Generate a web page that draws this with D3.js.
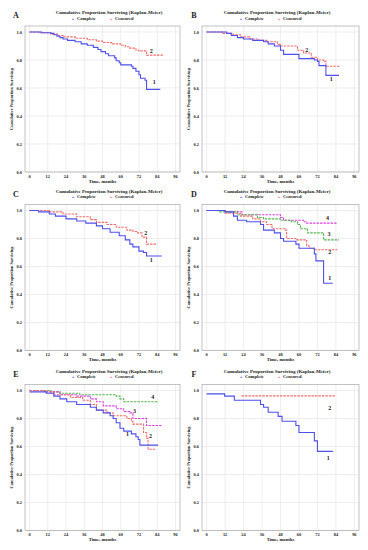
<!DOCTYPE html>
<html>
<head>
<meta charset="utf-8">
<script src="https://cdn.jsdelivr.net/npm/d3@7"></script>
<style>
  body { margin: 0; background: #fff; }
  svg { display: block; }
  text { font-family: "Liberation Serif", "DejaVu Serif", serif; font-weight: bold; fill: #222; }
</style>
</head>
<body>
<svg id="chart" width="368" height="550"></svg>
<script>
// axis ticks
var timeTicks = [0, 12, 24, 36, 48, 60, 72, 84, 96];
var survTicks = [0.0, 0.2, 0.4, 0.6, 0.8, 1.0];

// survival curves, [months, proportion surviving]
var a1 = [[0,1],[8,0.995],[14,0.99],[16,0.98],[18,0.97],[20,0.96],[22,0.95],[25,0.94],[30,0.93],[34,0.915],[38,0.905],[42,0.89],[45,0.875],[47,0.86],[50,0.845],[52,0.83],[56,0.815],[57,0.795],[59,0.78],[60,0.765],[67,0.755],[68,0.74],[70,0.72],[72,0.695],[73,0.67],[76,0.655],[77,0.59],[86,0.59]];
var a2 = [[0,1],[6,0.995],[14,0.985],[19,0.975],[22,0.965],[30,0.955],[38,0.945],[44,0.935],[48,0.925],[54,0.915],[60,0.905],[63,0.895],[66,0.885],[70,0.87],[72,0.865],[77,0.835],[88,0.835]];

var b1 = [[0,1],[13,0.99],[16,0.975],[20,0.96],[24,0.95],[30,0.94],[37,0.93],[40,0.915],[44,0.9],[48,0.87],[50,0.84],[59,0.84],[60,0.81],[68,0.81],[70,0.8],[72,0.79],[73,0.76],[76,0.76],[77.5,0.69],[86,0.69]];
var b2 = [[0,1],[10,0.99],[17,0.98],[22,0.965],[28,0.95],[34,0.94],[39,0.93],[46,0.91],[48,0.9],[57,0.9],[59,0.87],[63,0.85],[68,0.82],[72,0.8],[76,0.79],[77.5,0.755],[87,0.755]];

var c1 = [[0,1],[6,0.99],[13,0.975],[17,0.96],[24,0.94],[31,0.925],[37,0.91],[44,0.89],[48,0.87],[53,0.845],[59,0.82],[63,0.79],[66,0.76],[68,0.74],[72,0.71],[75,0.7],[77,0.675],[87,0.675]];
var c2 = [[0,1],[13,0.99],[22,0.975],[31,0.955],[40,0.935],[44,0.915],[51,0.9],[57,0.88],[64,0.86],[68,0.85],[71,0.84],[74,0.81],[77,0.76],[84,0.76]];

var d1 = [[0,1],[12,0.99],[17.5,0.96],[20,0.93],[26,0.92],[35,0.9],[37,0.86],[44,0.84],[48,0.8],[50,0.78],[57,0.78],[58,0.76],[60,0.73],[68,0.73],[70,0.69],[71,0.64],[74,0.64],[76,0.48],[82,0.48]];
var d2 = [[0,1],[12,0.98],[22,0.96],[30,0.94],[35,0.92],[39,0.9],[42.5,0.87],[49,0.87],[51,0.86],[52,0.8],[57,0.8],[58,0.79],[63,0.79],[65,0.75],[66.5,0.73],[70,0.72],[85,0.72]];
var d3c = [[0,1],[8,0.99],[20,0.97],[33,0.95],[37,0.94],[48,0.93],[55,0.92],[59,0.9],[61,0.87],[65.5,0.84],[74,0.84],[76,0.79],[86,0.79]];
var d4 = [[0,1],[12,0.99],[23,0.97],[47,0.97],[48,0.95],[50,0.93],[62,0.93],[63,0.92],[65,0.91],[85,0.91]];

var e1 = [[0,0.99],[11,0.98],[16,0.96],[20,0.94],[24.5,0.92],[31,0.9],[40,0.88],[44,0.86],[48.5,0.84],[53,0.82],[55,0.8],[57,0.77],[59.5,0.73],[62,0.71],[66,0.71],[67,0.69],[70,0.67],[71.5,0.65],[72.6,0.61],[84.6,0.61]];
var e2 = [[0,1],[10,0.99],[16,0.97],[27,0.95],[35,0.93],[40,0.9],[44,0.86],[51,0.84],[55,0.82],[64,0.8],[67,0.78],[68,0.76],[74,0.76],[75,0.7],[77,0.66],[78,0.58],[82.5,0.58]];
var e3 = [[0,1],[10,0.99],[20,0.97],[31,0.96],[40,0.94],[44,0.92],[48.5,0.89],[57,0.87],[62,0.85],[66,0.84],[68,0.8],[75,0.8],[77,0.75],[87,0.75]];
var e4 = [[0,1],[14,0.99],[20,0.98],[33,0.97],[57,0.96],[59.5,0.94],[62,0.92],[85,0.92]];

var f1 = [[0,0.976],[11.7,0.96],[18,0.93],[34,0.93],[35,0.9],[37,0.88],[40,0.845],[45,0.845],[46.5,0.815],[49,0.78],[57,0.78],[58,0.75],[60,0.7],[69,0.7],[70,0.64],[72,0.565],[82,0.565]];
var f2 = [[22.6,0.962],[84,0.962]];

// curve numbers, [months, proportion, label]
var labA = [[82,0.645,"1"],[80,0.865,"2"]];
var labB = [[81,0.665,"1"],[65,0.875,"2"]];
var labC = [[80,0.65,"1"],[76.5,0.84,"2"]];
var labD = [[80,0.52,"1"],[80,0.705,"2"],[79.5,0.835,"3"],[78.5,0.945,"4"]];
var labE = [[64.5,0.69,"1"],[79.6,0.676,"2"],[69,0.856,"3"],[81,0.957,"4"]];
var labF = [[79,0.518,"1"],[80,0.876,"2"]];

var panelNames = ["A", "B", "C", "D", "E", "F"];

var blue = "#4f4fec", red = "#f06e6e", green = "#55b455", magenta = "#dd44dd";

var panels = [
  { name: panelNames[0], col: 0, row: 0, curves: [[a2, red], [a1, blue]], labels: labA },
  { name: panelNames[1], col: 1, row: 0, curves: [[b2, red], [b1, blue]], labels: labB },
  { name: panelNames[2], col: 0, row: 1, curves: [[c2, red], [c1, blue]], labels: labC },
  { name: panelNames[3], col: 1, row: 1, curves: [[d4, magenta], [d3c, green], [d2, red], [d1, blue]], labels: labD },
  { name: panelNames[4], col: 0, row: 2, curves: [[e4, green], [e3, magenta], [e2, red], [e1, blue]], labels: labE },
  { name: panelNames[5], col: 1, row: 2, curves: [[f2, red], [f1, blue]], labels: labF }
];

var cols = [{ left: 25, right: 180, mid: 109, letterX: 16 }, { left: 202, right: 359, mid: 277, letterX: 194 }];
var rows = [{ base: 172 }, { base: 350.5 }, { base: 530.5 }];

var svg = d3.select("#chart");

panels.forEach(function(p) {
    var c = cols[p.col], r = rows[p.row];
    var x = d3.scaleLinear().domain([-3, 99]).range([c.left, c.right]);
    var y = d3.scaleLinear().domain([0, 1.043]).range([r.base, r.base - 146]);
    var top = y(1.043);
    var g = svg.append("g");

    // grid
    g.selectAll(".vg").data(timeTicks).enter().append("line")
        .attr("x1", function(d) { return x(d); }).attr("x2", function(d) { return x(d); })
        .attr("y1", top).attr("y2", r.base)
        .attr("stroke", "#e3e3e3").attr("stroke-width", 0.6);
    g.selectAll(".hg").data(survTicks).enter().append("line")
        .attr("x1", c.left).attr("x2", c.right)
        .attr("y1", function(d) { return y(d); }).attr("y2", function(d) { return y(d); })
        .attr("stroke", "#e3e3e3").attr("stroke-width", 0.6);

    g.append("rect")
        .attr("x", c.left).attr("y", top)
        .attr("width", c.right - c.left).attr("height", r.base - top)
        .attr("fill", "none").attr("stroke", "#aaa").attr("stroke-width", 0.7);

    // tick labels
    g.selectAll(".xt").data(timeTicks).enter().append("text")
        .attr("x", function(d) { return x(d); })
        .attr("y", r.base + 5.5)
        .attr("text-anchor", "middle")
        .style("font-size", "4.4px")
        .text(function(d) { return d; });
    g.selectAll(".yt").data(survTicks).enter().append("text")
        .attr("x", c.left - 3)
        .attr("y", function(d) { return y(d) + 1.5; })
        .attr("text-anchor", "end")
        .style("font-size", "4.4px")
        .text(function(d) { return d3.format(".1f")(d); });

    g.append("text")
        .attr("x", x(48)).attr("y", r.base + 10.5)
        .attr("text-anchor", "middle")
        .style("font-size", "4.7px")
        .text("Time, months");

    g.append("text")
        .attr("transform", "translate(" + (c.left - 12) + "," + ((top + r.base) / 2) + ") rotate(-90)")
        .attr("text-anchor", "middle")
        .style("font-size", "4.3px")
        .text("Cumulative Proportion Surviving");

    // title and legend
    g.append("text")
        .attr("x", c.mid).attr("y", top - 12)
        .attr("text-anchor", "middle")
        .style("font-size", "5px")
        .text("Cumulative Proportion Surviving (Kaplan-Meier)");
    g.append("text").attr("x", c.mid - 36).attr("y", top - 6.5).attr("text-anchor", "middle")
        .style("font-size", "4.6px").style("fill", blue).text("+");
    g.append("text").attr("x", c.mid - 32).attr("y", top - 6.5)
        .style("font-size", "4.6px").text("Complete");
    g.append("text").attr("x", c.mid + 2).attr("y", top - 6.5).attr("text-anchor", "middle")
        .style("font-size", "4.6px").style("fill", red).text("+");
    g.append("text").attr("x", c.mid + 6).attr("y", top - 6.5)
        .style("font-size", "4.6px").text("Censored");

    g.append("text")
        .attr("x", c.letterX).attr("y", top - 8)
        .attr("text-anchor", "middle")
        .style("font-size", "8px")
        .text(p.name);

    // curves
    var line = d3.line()
        .x(function(d) { return x(d[0]); })
        .y(function(d) { return y(d[1]); })
        .curve(d3.curveStepAfter);

    p.curves.forEach(function(cv) {
        g.append("path")
            .datum(cv[0])
            .attr("d", line)
            .attr("fill", "none")
            .attr("stroke", cv[1])
            .attr("stroke-width", 1.1)
            .attr("stroke-dasharray", cv[1] == blue ? null : "2.5,1");
    });

    g.selectAll(".lab").data(p.labels).enter().append("text")
        .attr("x", function(d) { return x(d[0]); })
        .attr("y", function(d) { return y(d[1]) + 2; })
        .attr("text-anchor", "middle")
        .style("font-size", "6px")
        .text(function(d) { return d[2]; });
});
</script>
</body>
</html>
